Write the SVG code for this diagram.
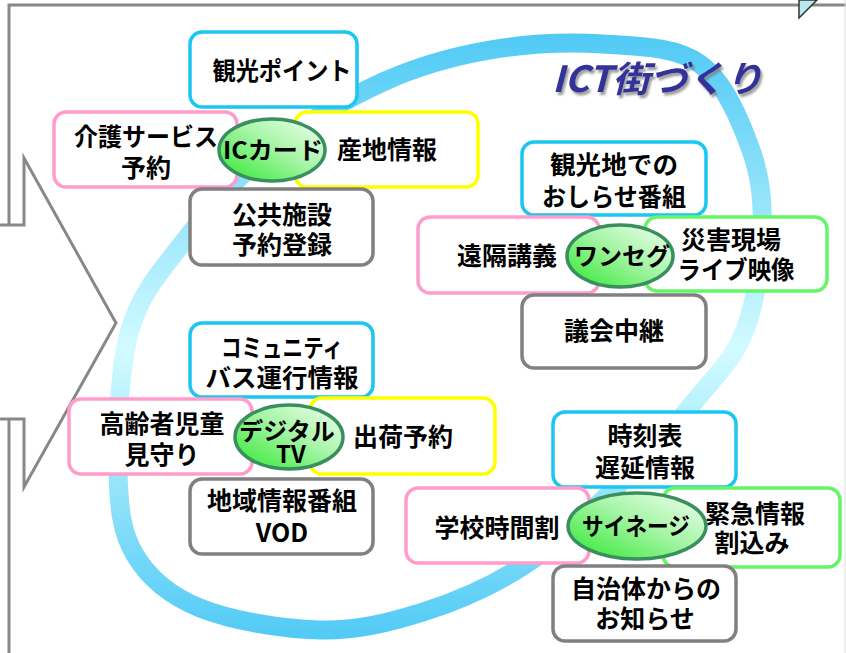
<svg xmlns="http://www.w3.org/2000/svg" width="846" height="653" viewBox="0 0 846 653">
<defs>
<linearGradient id="ring" gradientUnits="userSpaceOnUse" x1="0" y1="30" x2="0" y2="645">
<stop offset="0" stop-color="#4ec9f5"/>
<stop offset="0.52" stop-color="#d2fbff"/>
<stop offset="1" stop-color="#4ec9f5"/>
</linearGradient>
<linearGradient id="hub" x1="0" y1="1" x2="1" y2="0">
<stop offset="0" stop-color="#2ee82e"/>
<stop offset="0.55" stop-color="#a8f5a8"/>
<stop offset="1" stop-color="#f4fff4"/>
</linearGradient>
<filter id="shadow" x="-10%" y="-20%" width="120%" height="150%">
<feDropShadow dx="2" dy="3" stdDeviation="1.2" flood-color="#777" flood-opacity="0.7"/>
</filter>
<style>
.frame{fill:none;stroke:#888;stroke-width:3}
.arrow{fill:#fff;stroke:#888;stroke-width:3;stroke-linejoin:miter}
.box{fill:#fff;stroke-width:3.5}
.c{stroke:#1cc6f2}
.p{stroke:#ff9ccc}
.y{stroke:#ffff00}
.g{stroke:#808080}
.gr{stroke:#66f566}
.hub{fill:url(#hub);stroke:#3a8f5e;stroke-width:3.5}
.t{font-family:"Noto Sans CJK JP","Noto Sans CJK SC",sans-serif;font-weight:bold;font-size:25px;fill:#000;text-anchor:middle}
.ht{font-family:"Noto Sans CJK JP","Noto Sans CJK SC",sans-serif;font-weight:bold;font-size:24px;fill:#000;text-anchor:middle}
.title{font-family:"Noto Sans CJK JP","Noto Sans CJK SC",sans-serif;font-weight:bold;font-style:italic;font-size:36px;fill:#333399}
</style>
</defs>
<rect width="846" height="653" fill="#fff"/>
<g id="frame">
<path class="frame" d="M846,5 H9 V653"/>
<path class="arrow" d="M-10,225 H24 V158 L116,323 L24,487 V419 H-10 Z"/>
<line x1="845" y1="0" x2="845" y2="653" stroke="#ddd" stroke-width="1"/>
<polygon points="799,0 799,18 817,0" fill="#b8e8ee" stroke="#333" stroke-width="1.5"/>
</g>
<g id="ring-loop">
<path fill="none" stroke="url(#ring)" stroke-width="19" d="M603,44 C638,46.3 675.3,46.3 700,64 C724.7,81.7 740.7,121.5 751,150 C761.3,178.5 763,205 762,235 C761,265 755.3,303.3 745,330 C734.7,356.7 722,368.3 700,395 C678,421.7 642.5,461.5 613,490 C583.5,518.5 554.7,545.7 523,566 C491.3,586.3 456.8,601.3 423,612 C389.2,622.7 357.2,630.7 320,630 C282.8,629.3 230.8,620.5 200,608 C169.2,595.5 148.7,578 135,555 C121.3,532 118.8,507.5 118,470 C117.2,432.5 118.8,368.3 130,330 C141.2,291.7 161.7,270 185,240 C208.3,210 237,176.3 270,150 C303,123.7 346.3,98.7 383,82 C419.7,65.3 453.3,56.3 490,50 C526.7,43.7 568,41.7 603,44 Z"/>
</g>
<g id="title">
<text class="title" x="552" y="92" textLength="211" lengthAdjust="spacingAndGlyphs" filter="url(#shadow)">ICT街づくり</text>
</g>
<g id="connectors"></g>

<g id="ic-group">
<g id="n-kanko-point"><rect class="box c" x="190" y="32" width="167" height="75" rx="12"/><text class="t" x="282" y="80" textLength="139" lengthAdjust="spacingAndGlyphs">観光ポイント</text></g>
<g id="n-kaigo"><rect class="box p" x="54" y="112" width="183" height="75" rx="12"/><text class="t" x="146" y="146" textLength="144" lengthAdjust="spacingAndGlyphs">介護サービス</text><text class="t" x="146" y="177">予約</text></g>
<g id="n-sanchi"><rect class="box y" x="295" y="112" width="183" height="75" rx="12"/><text class="t" x="387" y="159">産地情報</text></g>
<g id="n-kokyo"><rect class="box g" x="190" y="189" width="183" height="76" rx="12"/><text class="t" x="282" y="224">公共施設</text><text class="t" x="282" y="254">予約登録</text></g>
<g id="hub-ic"><ellipse class="hub" cx="272" cy="150" rx="53" ry="31"/><text class="ht" x="273" y="159" textLength="100" lengthAdjust="spacingAndGlyphs">ICカード</text></g>
</g>

<g id="oneseg-group">
<g id="n-kankochi"><rect class="box c" x="522" y="142" width="184" height="73" rx="12"/><text class="t" x="614" y="174" textLength="128" lengthAdjust="spacingAndGlyphs">観光地での</text><text class="t" x="614" y="206" textLength="144" lengthAdjust="spacingAndGlyphs">おしらせ番組</text></g>
<g id="n-enkaku"><rect class="box p" x="418" y="217" width="181" height="76" rx="12"/><text class="t" x="507" y="265">遠隔講義</text></g>
<g id="n-saigai"><rect class="box gr" x="645" y="217" width="182" height="74" rx="12"/><text class="t" x="731" y="249">災害現場</text><text class="t" x="736" y="279" textLength="117" lengthAdjust="spacingAndGlyphs">ライブ映像</text></g>
<g id="n-gikai"><rect class="box g" x="522" y="295" width="184" height="73" rx="12"/><text class="t" x="614" y="340">議会中継</text></g>
<g id="hub-oneseg"><ellipse class="hub" cx="620" cy="256" rx="53" ry="31"/><text class="ht" x="622" y="265">ワンセグ</text></g>
</g>

<g id="dtv-group">
<g id="n-community"><rect class="box c" x="190" y="323" width="183" height="74" rx="12"/><text class="t" x="282" y="357" textLength="122" lengthAdjust="spacingAndGlyphs">コミュニティ</text><text class="t" x="282" y="387" textLength="153" lengthAdjust="spacingAndGlyphs">バス運行情報</text></g>
<g id="n-koreisha"><rect class="box p" x="69" y="399" width="183" height="75" rx="12"/><text class="t" x="162" y="433">高齢者児童</text><text class="t" x="162" y="464">見守り</text></g>
<g id="n-shukka"><rect class="box y" x="310" y="398" width="185" height="76" rx="12"/><text class="t" x="403" y="446">出荷予約</text></g>
<g id="n-chiiki"><rect class="box g" x="190" y="479" width="183" height="75" rx="12"/><text class="t" x="282" y="510">地域情報番組</text><text class="t" x="282" y="542">VOD</text></g>
<g id="hub-dtv"><ellipse class="hub" cx="289" cy="437" rx="54" ry="32"/><text class="ht" x="287" y="440" font-size="22">デジタル</text><text class="ht" x="291" y="463" font-size="22">TV</text></g>
</g>

<g id="signage-group">
<g id="n-jikoku"><rect class="box c" x="553" y="412" width="183" height="75" rx="12"/><text class="t" x="645" y="445">時刻表</text><text class="t" x="645" y="477">遅延情報</text></g>
<g id="n-gakko"><rect class="box p" x="406" y="488" width="183" height="75" rx="12"/><text class="t" x="497" y="537">学校時間割</text></g>
<g id="n-kinkyu"><rect class="box gr" x="663" y="488" width="177" height="79" rx="12"/><text class="t" x="755" y="523">緊急情報</text><text class="t" x="752" y="552">割込み</text></g>
<g id="n-jichitai"><rect class="box g" x="553" y="566" width="183" height="75" rx="12"/><text class="t" x="646" y="598" textLength="150" lengthAdjust="spacingAndGlyphs">自治体からの</text><text class="t" x="645" y="628">お知らせ</text></g>
<g id="hub-signage"><ellipse class="hub" cx="637" cy="526" rx="69" ry="33"/><text class="ht" x="636" y="535" textLength="108" lengthAdjust="spacingAndGlyphs">サイネージ</text></g>
</g>
</svg>
